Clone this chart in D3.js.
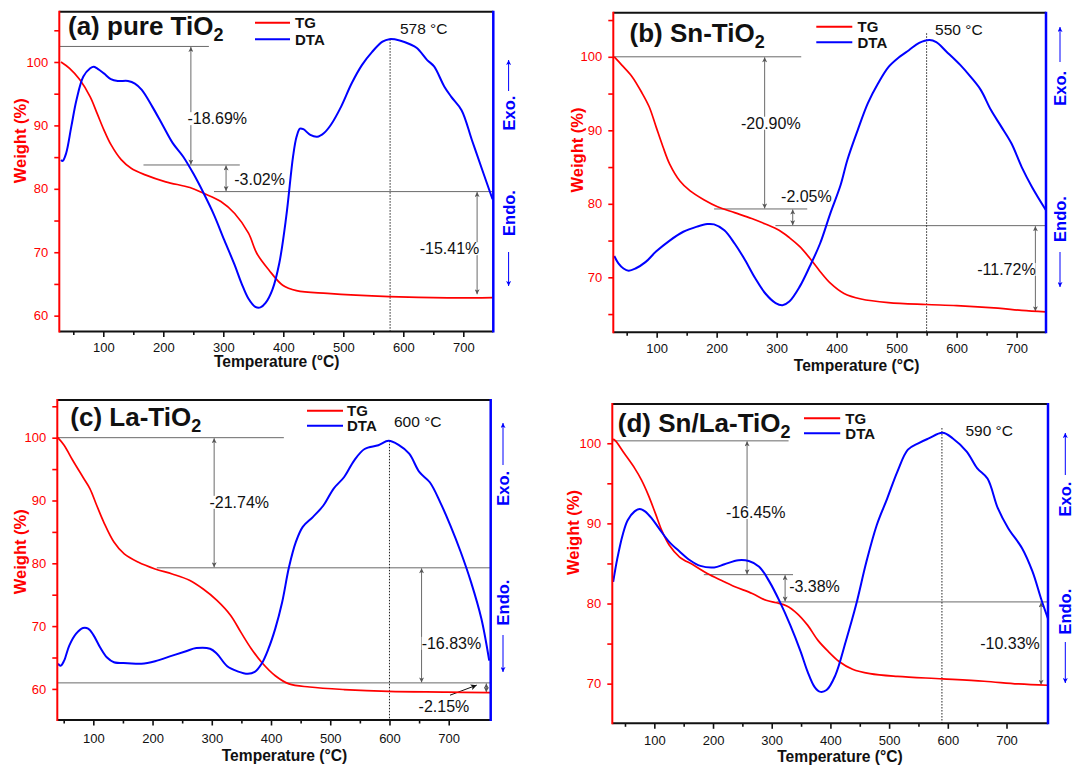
<!DOCTYPE html>
<html><head><meta charset="utf-8">
<script src="https://cdn.jsdelivr.net/npm/d3@7/dist/d3.min.js"></script>
<style>
body{margin:0;background:#fff}
svg{display:block}
text{font-family:"Liberation Sans",Arial,Helvetica,sans-serif}
</style>
</head><body>
<svg id="chart" width="1073" height="765"></svg>
<script>
// ---------------- DATA ----------------
const panelTitles = ["(a) pure TiO", "(b) Sn-TiO", "(c) La-TiO", "(d) Sn/La-TiO"];
const xTickLabels = [100, 200, 300, 400, 500, 600, 700];
const xMinorTicks = [50, 150, 250, 350, 450, 550, 650];
const peakTemps = [578, 550, 600, 590];
const legendNames = ["TG", "DTA"];

// TG: [temperature °C, weight %]; DTA: [temperature °C, signal (a.u., plotted on the hidden right axis)]
const tgA = [[29.5,100.0],[43.8,99.0],[61,97.2],[78.2,94.5],[89.7,91.9],[101,89.3],[112.6,87.0],[129.8,84.6],[147,83.2],[170,82.2],[204,81.1],[244.4,80.2],[267,79.3],[296,78.0],[319,76.1],[342,73.0],[356,69.8],[376,67.2],[399,64.8],[422,63.95],[473.6,63.5],[576.8,63.0],[674,62.8],[748.7,62.85]];
const dtaA = [[29.5,84.55],[32.4,84.4],[38.1,85.6],[46.7,89.8],[55.3,94.0],[66.8,97.7],[78.2,99.0],[84.0,99.26],[89.7,99.0],[101.1,98.2],[112.6,97.3],[124.1,97.0],[141.3,97.0],[152.7,96.6],[164.2,95.6],[181.4,93.0],[198.6,90.1],[215.8,87.2],[233.0,85.1],[250.1,82.4],[267.3,79.3],[284.5,75.9],[301.7,71.9],[318.9,68.0],[330.4,65.1],[341.8,62.7],[353.3,61.4],[361.9,61.3],[370.5,62.0],[381.9,64.1],[393.4,68.3],[404.9,75.6],[416.3,85.1],[422.1,88.2],[427.8,89.5],[433.5,89.4],[445.0,88.5],[456.4,88.2],[467.9,88.8],[479.4,90.1],[496.6,93.0],[513.8,96.6],[531.0,99.5],[548.1,101.6],[565.3,103.2],[576.8,103.6],[594.0,103.4],[611.2,102.8],[622.6,102.2],[639.8,100.3],[651.3,99.3],[668.5,96.1],[680.0,94.5],[697.1,92.4],[714.3,87.7],[731.5,83.0],[748.7,78.35]];

const tgB = [[29.3,100],[41.9,98.87],[59.0,97.3],[76.1,95.0],[87.5,93.2],[98.9,90.5],[110.3,87.8],[121.7,85.4],[138.7,83.1],[155.8,81.75],[178.6,80.55],[201.4,79.6],[229.9,78.8],[258.4,78.0],[281.2,77.25],[304.0,76.4],[321.1,75.4],[338.2,74.2],[355.3,72.6],[372.4,70.8],[389.5,69.2],[412.3,67.8],[440.7,67.05],[486.3,66.56],[549.0,66.3],[600.3,66.15],[668.7,65.8],[708.5,65.5],[748.4,65.3]];
const dtaB = [[29.3,72.9],[36.2,71.9],[44.7,71.2],[53.3,70.9],[64.7,71.2],[81.8,72.1],[98.9,73.5],[121.7,75.0],[144.4,76.2],[167.2,76.9],[184.3,77.25],[195.7,77.2],[212.8,76.4],[229.9,74.6],[247.0,72.4],[264.1,69.9],[281.2,67.8],[298.3,66.5],[309.7,66.2],[321.1,66.7],[338.2,68.7],[355.3,71.5],[372.4,74.6],[389.5,78.7],[406.6,82.55],[418.0,86.0],[435.0,90.0],[452.1,93.7],[469.2,96.4],[486.3,98.6],[503.4,99.9],[520.5,100.9],[537.6,101.9],[554.7,102.3],[566.1,102.0],[583.2,100.7],[606.0,98.9],[623.1,97.3],[640.2,95.5],[657.3,92.75],[674.4,90.5],[691.5,88.2],[708.5,85.0],[725.6,82.3],[748.4,79.2]];

const tgC = [[40,100],[50.7,98.8],[65.2,96.4],[82.6,93.7],[94.2,91.9],[105.8,89.2],[117.4,86.6],[134.8,83.4],[152.2,81.5],[175.4,80.2],[204.3,79.1],[233.3,78.3],[262.3,77.3],[285.5,75.9],[308.7,74.1],[331.9,71.7],[349.3,69.0],[366.7,66.4],[384.1,64.25],[407.2,62.1],[430.4,60.8],[465.2,60.3],[523.2,59.9],[598.6,59.6],[697.1,59.5],[770,59.4]];
const dtaC = [[40.3,64.0],[44.9,63.7],[50.7,64.5],[59.4,66.9],[71.0,68.8],[82.6,69.7],[91.3,69.6],[100,68.6],[111.6,66.6],[123.2,65.0],[134.8,64.25],[158.0,64.1],[181.2,64.0],[204.3,64.4],[233.3,65.3],[256.5,66.0],[273.9,66.5],[297.1,66.4],[308.7,65.6],[326.1,63.6],[343.5,62.8],[360.9,62.4],[372.5,62.7],[384.1,64.0],[395.7,66.4],[407.2,69.6],[418.8,73.8],[430.4,79.4],[442.0,83.4],[453.6,85.8],[471.0,87.4],[488.4,89.2],[505.8,91.9],[523.2,93.7],[540.6,96.4],[558.0,98.2],[581.2,98.8],[598.6,99.5],[616.0,98.8],[633.3,97.45],[650.7,94.5],[668.1,92.9],[685.5,89.75],[702.9,86.0],[720.3,81.8],[737.7,77.0],[755.1,71.2],[768.4,64.5]];

const tgD = [[29.9,100.54],[34.0,100.3],[48.7,98.75],[66.4,96.9],[78.2,95.4],[90.0,93.5],[101.8,91.25],[113.6,88.96],[125.3,87.3],[143.0,85.8],[166.6,84.8],[190.2,83.75],[213.7,82.9],[237.3,82.1],[266.8,81.25],[290.4,80.4],[308.1,80.1],[325.7,79.7],[343.4,78.75],[361.1,77.3],[378.8,75.4],[396.5,74.0],[414.1,72.8],[437.7,71.8],[467.2,71.25],[514.3,70.9],[591.0,70.6],[661.7,70.3],[720.6,69.96],[770,69.8]];
const dtaD = [[29.9,82.7],[36.9,85.6],[45.8,88.5],[54.6,90.4],[66.4,91.5],[75.2,91.8],[84.1,91.5],[95.9,90.6],[107.7,89.4],[125.3,87.7],[143.0,86.5],[160.7,85.4],[178.4,84.7],[202.0,84.5],[219.6,84.9],[243.2,85.4],[260.9,85.3],[278.6,84.6],[296.3,82.7],[313.9,80.2],[331.6,77.3],[349.3,74.0],[361.1,71.5],[372.9,69.6],[381.7,69.0],[393.5,69.2],[408.2,71.0],[425.9,75.2],[443.6,79.8],[461.3,85.2],[479.0,89.8],[496.7,93.1],[514.3,96.5],[532.0,99.2],[549.7,100.0],[567.4,100.6],[591.0,101.3],[608.6,100.6],[632.2,98.96],[649.9,96.9],[667.6,95.6],[685.2,91.9],[702.9,89.4],[726.5,86.9],[744.2,84.0],[758.9,80.6],[770.7,78.1]];

// weight-loss steps: reference levels [T from, T to, weight], arrows [T, w1, w2], labels [text, T, w]
const levelsA = [[26.7,276,102.45],[167,327.5,83.76],[284.5,750,79.56]];
const arrowsA = [[246,102.45,83.76],[304.6,83.76,79.56],[723,79.56,63.3]];
const lossLabelsA = [["-18.69%",290,91.1],["-3.02%",360.5,81.56],["-15.41%",677,70.6]];

const levelsB = [[27.7,341,100],[195.7,351,79.3],[298,749,77.03]];
const arrowsB = [[280,100,79.3],[326.8,79.3,77.03],[731.3,77.03,65.3]];
const lossLabelsB = [["-20.90%",290.3,91.0],["-2.05%",349.6,81.06],["-11.72%",683,71.1]];

const levelsC = [[39.2,421.7,100],[207.2,770.9,79.28],[39.2,770.9,60.96]];
const arrowsC = [[304,100,79.28],[654.2,79.28,60.96],[763.5,60.96,59.4]];
const lossLabelsC = [["-21.74%",346.4,89.75],["-16.83%",704.6,67.3],["-2.15%",692,57.25]];
const leaderC = [[702.2,59.0],[747.3,60.6]];

const levelsD = [[28.4,328.7,100.3],[184.3,336.3,83.6],[308,770.7,80.2]];
const arrowsD = [[258,100.3,83.6],[322.8,83.6,80.2],[758.9,80.2,69.8]];
const lossLabelsD = [["-16.45%",272.7,91.4],["-3.38%",372.9,82.2],["-10.33%",705.9,75.0]];

// peak marker tops (DTA signal) and label anchors [T, value]
const peakTops = [103.6, 103.2, 99.5, 101.9];
const peakLabelAt = [[634,105.3],[603.7,103.7],[647.8,102.6],[670.5,101.6]];

// ---------------- LAYOUT ----------------
const RED = "#ff0000", BLUE = "#0000ff", GRAY = "#6a6a6a";
const panels = [
  {tg:tgA, dta:dtaA, levels:levelsA, arrows:arrowsA, labels:lossLabelsA, leader:null,
   box:[59.3,493.3,11.7,331.5], xd:[26.7,750], yd:[57.5,107.93], yMajor:[60,70,80,90,100], yMinor:[65,75,85,95,105],
   titleXY:[68,35], leg:[255,290,22.7,39.3,295], xPad:5.8, xTitle:[276.7,367], yTitle:[20,140.8],
   side:{x:508.6, exo:113, endo:213, up:[60,91], down:[252,286]}},
  {tg:tgB, dta:dtaB, levels:levelsB, arrows:arrowsB, labels:lossLabelsB, leader:null,
   box:[613.3,1046,12.7,332.3], xd:[27.7,749], yd:[62.52,106.0], yMajor:[70,80,90,100], yMinor:[65,75,85,95,105],
   titleXY:[629.5,41.7], leg:[816.3,852.3,26.7,42.3,857.5], xPad:6.3, xTitle:[856.6,370.5], yTitle:[577,150],
   side:{x:1060, exo:88.3, endo:219, up:[27,62], down:[252,287]}},
  {tg:tgC, dta:dtaC, levels:levelsC, arrows:arrowsC, labels:lossLabelsC, leader:leaderC,
   box:[57.3,490.7,400,720], xd:[39.2,770.9], yd:[55.05,106.0], yMajor:[60,70,80,90,100], yMinor:[65,75,85,95,105],
   titleXY:[70.3,425.7], leg:[307,343,410.7,425.7,347], xPad:8, xTitle:[284.5,761], yTitle:[20.3,551.7],
   side:{x:503, exo:488.3, endo:602.5, up:[423,465], down:[635,672]}},
  {tg:tgD, dta:dtaD, levels:levelsD, arrows:arrowsD, labels:lossLabelsD, leader:null,
   box:[612.3,1048,404,723.3], xd:[28.4,770.7], yd:[65.05,104.9], yMajor:[70,80,90,100], yMinor:[75,85,95],
   titleXY:[617.8,431.7], leg:[804,840.2,418.3,433.3,845.3], xPad:7, xTitle:[840,762], yTitle:[573.3,532.5],
   side:{x:1065.3, exo:499, endo:611.7, up:[433,475], down:[642,683]}}
];

const svg = d3.select("#chart");
const defs = svg.append("defs");
function marker(id, color, w, h) {
  defs.append("marker").attr("id", id).attr("viewBox", "0 0 10 10")
    .attr("refX", 10).attr("refY", 5).attr("markerWidth", w).attr("markerHeight", h)
    .attr("markerUnits", "userSpaceOnUse").attr("orient", "auto-start-reverse")
    .append("path").attr("d", "M0,0L10,5L0,10L2.5,5z").attr("fill", color);
}
marker("mGray", "#555", 8, 5);
marker("mBlue", BLUE, 8, 5);
marker("mBlack", "#111", 9, 6);

panels.forEach((p, i) => {
  const [L, R, T, B] = p.box;
  const x = d3.scaleLinear().domain(p.xd).range([L, R]);
  const y = d3.scaleLinear().domain(p.yd).range([B, T]);
  const yR = d3.scaleLinear().domain(p.yd).range([B, T]); // DTA (no labelled scale)
  const g = svg.append("g");

  // reference levels
  p.levels.forEach(([t1, t2, w]) => {
    g.append("line").attr("x1", x(t1)).attr("x2", x(t2)).attr("y1", y(w)).attr("y2", y(w))
      .attr("stroke", GRAY).attr("stroke-width", 1);
  });
  // double arrows
  p.arrows.forEach(([t, w1, w2]) => {
    g.append("line").attr("x1", x(t)).attr("x2", x(t)).attr("y1", y(w1) + 0.5).attr("y2", y(w2) - 0.5)
      .attr("stroke", GRAY).attr("stroke-width", 1)
      .attr("marker-start", "url(#mGray)").attr("marker-end", "url(#mGray)");
  });
  // peak dotted line
  g.append("line").attr("x1", x(peakTemps[i])).attr("x2", x(peakTemps[i]))
    .attr("y1", yR(peakTops[i])).attr("y2", B)
    .attr("stroke", "#222").attr("stroke-width", 1).attr("stroke-dasharray", "1.5,1.5");
  // loss labels with white background
  p.labels.forEach(([txt, t, w]) => {
    const tx = g.append("text").attr("x", x(t)).attr("y", y(w)).attr("dy", "0.36em")
      .attr("text-anchor", "middle").attr("font-size", 16).attr("fill", "#111").text(txt);
    const bb = tx.node().getBBox();
    g.insert("rect", () => tx.node()).attr("x", bb.x).attr("y", bb.y + 2).attr("width", bb.width)
      .attr("height", bb.height - 4).attr("fill", "#fff");
  });
  if (p.leader) {
    g.append("line").attr("x1", x(p.leader[0][0])).attr("y1", y(p.leader[0][1]))
      .attr("x2", x(p.leader[1][0])).attr("y2", y(p.leader[1][1]))
      .attr("stroke", "#111").attr("stroke-width", 1).attr("marker-end", "url(#mBlack)");
  }
  // peak label
  g.append("text").attr("x", x(peakLabelAt[i][0])).attr("y", yR(peakLabelAt[i][1])).attr("dy", "0.36em")
    .attr("text-anchor", "middle").attr("font-size", 15.5).attr("fill", "#111").text(peakTemps[i] + " \u00B0C");

  // curves
  const cv = d3.curveCatmullRom.alpha(0.5);
  const lineTG = d3.line().x(d => x(d[0])).y(d => y(d[1])).curve(cv);
  const lineDTA = d3.line().x(d => x(d[0])).y(d => yR(d[1])).curve(cv);
  g.append("path").datum(p.tg).attr("d", lineTG).attr("fill", "none").attr("stroke", RED).attr("stroke-width", 1.7);
  g.append("path").datum(p.dta).attr("d", lineDTA).attr("fill", "none").attr("stroke", BLUE).attr("stroke-width", 2);

  // axes
  const ax = g.append("g").attr("transform", `translate(0,${B})`)
    .call(d3.axisBottom(x).tickValues(xTickLabels).tickSize(5.5).tickPadding(p.xPad).tickSizeOuter(0));
  const axm = g.append("g").attr("transform", `translate(0,${B})`)
    .call(d3.axisBottom(x).tickValues(xMinorTicks.filter(v => v > p.xd[0] && v < p.xd[1])).tickSize(3.5).tickFormat("").tickSizeOuter(0));
  [ax, axm].forEach(a => { a.select(".domain").remove(); a.selectAll("line").attr("stroke", "#111").attr("stroke-width", 1.6); });
  ax.selectAll("text").attr("font-size", 13).attr("fill", "#111").attr("font-family", '"Liberation Sans",Arial,sans-serif');

  const ay = g.append("g").attr("transform", `translate(${L},0)`)
    .call(d3.axisLeft(y).tickValues(p.yMajor).tickSize(5).tickPadding(6).tickSizeOuter(0));
  const aym = g.append("g").attr("transform", `translate(${L},0)`)
    .call(d3.axisLeft(y).tickValues(p.yMinor).tickSize(5).tickFormat("").tickSizeOuter(0));
  [ay, aym].forEach(a => { a.select(".domain").remove(); a.selectAll("line").attr("stroke", RED).attr("stroke-width", 1.6); });
  ay.selectAll("text").attr("font-size", 13).attr("fill", RED).attr("font-family", '"Liberation Sans",Arial,sans-serif');

  // frame
  g.append("line").attr("x1", L).attr("x2", R).attr("y1", T).attr("y2", T).attr("stroke", "#111").attr("stroke-width", 2);
  g.append("line").attr("x1", L).attr("x2", R).attr("y1", B).attr("y2", B).attr("stroke", "#111").attr("stroke-width", 2);
  g.append("line").attr("x1", L).attr("x2", L).attr("y1", T - 1).attr("y2", B + 1).attr("stroke", RED).attr("stroke-width", 2);
  g.append("line").attr("x1", R).attr("x2", R).attr("y1", T - 1).attr("y2", B + 1).attr("stroke", BLUE).attr("stroke-width", 2.5);

  // axis titles
  g.append("text").attr("x", p.xTitle[0]).attr("y", p.xTitle[1]).attr("text-anchor", "middle")
    .attr("font-size", 15.6).attr("font-weight", "bold").attr("fill", "#111").text("Temperature (\u00B0C)");
  g.append("text").attr("transform", `translate(${p.yTitle[0]},${p.yTitle[1]}) rotate(-90)`).attr("dy", "0.36em")
    .attr("text-anchor", "middle").attr("font-size", 16.5).attr("font-weight", "bold").attr("fill", RED).text("Weight (%)");

  // right side Exo./Endo.
  const s = p.side;
  g.append("text").attr("transform", `translate(${s.x},${s.exo}) rotate(-90)`).attr("dy", "0.36em")
    .attr("text-anchor", "middle").attr("font-size", 16.5).attr("font-weight", "bold").attr("fill", BLUE).text("Exo.");
  g.append("text").attr("transform", `translate(${s.x},${s.endo}) rotate(-90)`).attr("dy", "0.36em")
    .attr("text-anchor", "middle").attr("font-size", 16.5).attr("font-weight", "bold").attr("fill", BLUE).text("Endo.");
  g.append("line").attr("x1", s.x).attr("x2", s.x).attr("y1", s.up[1]).attr("y2", s.up[0])
    .attr("stroke", BLUE).attr("stroke-width", 1).attr("marker-end", "url(#mBlue)");
  g.append("line").attr("x1", s.x).attr("x2", s.x).attr("y1", s.down[0]).attr("y2", s.down[1])
    .attr("stroke", BLUE).attr("stroke-width", 1).attr("marker-end", "url(#mBlue)");

  // legend
  const [lx1, lx2, ly1, ly2, ltx] = p.leg;
  [[RED, ly1, legendNames[0]], [BLUE, ly2, legendNames[1]]].forEach(([c, ly, name]) => {
    g.append("line").attr("x1", lx1).attr("x2", lx2).attr("y1", ly).attr("y2", ly).attr("stroke", c).attr("stroke-width", 2);
    g.append("text").attr("x", ltx).attr("y", ly + 5.5).attr("font-size", 15).attr("font-weight", "bold")
      .attr("fill", "#111").text(name);
  });

  // title
  const tt = g.append("text").attr("x", p.titleXY[0]).attr("y", p.titleXY[1])
    .attr("font-size", 26).attr("font-weight", "bold").attr("fill", "#111");
  tt.append("tspan").text(panelTitles[i]);
  tt.append("tspan").attr("font-size", 18).attr("dy", 6).text("2");
});
</script>
</body></html>
